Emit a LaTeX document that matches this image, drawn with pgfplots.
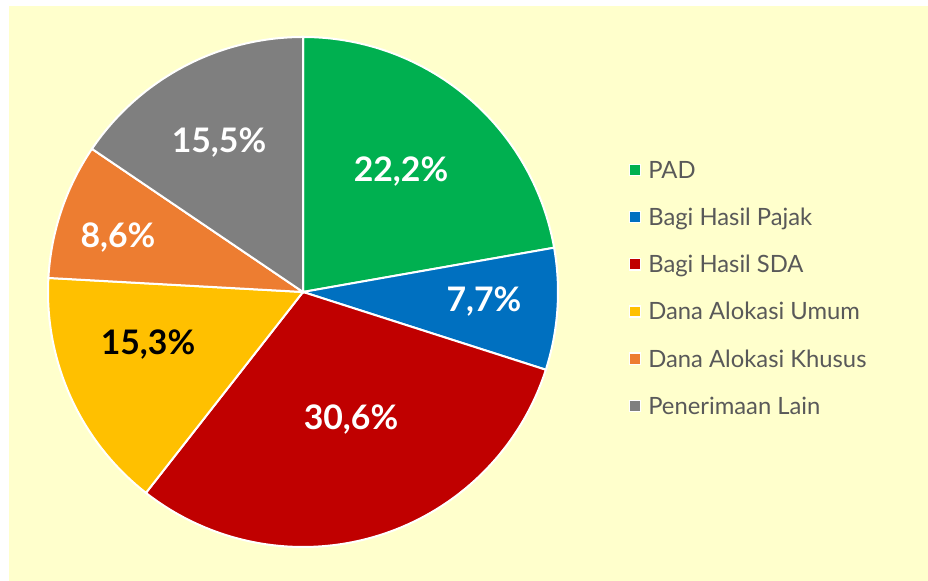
\documentclass[border=0pt]{standalone}
\usepackage{pgfplots}
\pgfplotsset{compat=1.18}
\usepackage{fontspec}
\setmainfont{Lato}
\definecolor{bgy}{HTML}{FFFFCC}
\definecolor{cpad}{HTML}{00B050}
\definecolor{cbhp}{HTML}{0070C0}
\definecolor{csda}{HTML}{C00000}
\definecolor{cdau}{HTML}{FFC000}
\definecolor{cdak}{HTML}{ED7D31}
\definecolor{clain}{HTML}{7F7F7F}
\definecolor{ltxt}{HTML}{595959}
% shares (%)
\def\vA{22.2}\def\vB{7.7}\def\vC{30.6}\def\vD{15.3}\def\vE{8.6}\def\vF{15.5}
\pgfmathsetmacro\tot{\vA+\vB+\vC+\vD+\vE+\vF}
\pgfmathsetmacro\aA{90}
\pgfmathsetmacro\aB{\aA-\vA*360/\tot}
\pgfmathsetmacro\aC{\aB-\vB*360/\tot}
\pgfmathsetmacro\aD{\aC-\vC*360/\tot}
\pgfmathsetmacro\aE{\aD-\vD*360/\tot}
\pgfmathsetmacro\aF{\aE-\vE*360/\tot}
\pgfmathsetmacro\aG{\aF-\vF*360/\tot}
\def\cx{303}\def\cy{289}\def\R{255}
\begin{document}
\begin{tikzpicture}
\begin{axis}[
  scale only axis, width=464pt, height=290.5pt,
  xmin=0, xmax=928, ymin=0, ymax=581,
  hide axis, clip=false,
  axis background/.style={fill=white},
  legend style={draw=none, fill=none, inner sep=0pt, outer sep=0pt,
    at={(axis cs:628.5,434.6)}, anchor=north west,
    column sep=3.6pt, row sep=0pt,
    font=\fontsize{11.9}{13}\selectfont\color{ltxt},
    nodes={inner sep=0pt, text height=16pt, text depth=7.6pt}},
  legend image code/.code={\draw[#1, draw=white, line width=0.7pt] (0pt,-2.8pt) rectangle (5.6pt,2.8pt);},
  legend cell align=left,
]
\addplot[fill=bgy, draw=none, forget plot] coordinates {(9,0) (928,0) (928,575) (9,575)} -- cycle;
\addplot[fill=cpad, draw=white, line width=1pt, domain=\aB:\aA, samples=80] ({\cx+\R*cos(x)},{\cy+\R*sin(x)}) -- (axis cs:\cx,\cy) -- cycle;
\addlegendentry{PAD}
\addplot[fill=cbhp, draw=white, line width=1pt, domain=\aC:\aB, samples=40] ({\cx+\R*cos(x)},{\cy+\R*sin(x)}) -- (axis cs:\cx,\cy) -- cycle;
\addlegendentry{Bagi Hasil Pajak}
\addplot[fill=csda, draw=white, line width=1pt, domain=\aD:\aC, samples=100] ({\cx+\R*cos(x)},{\cy+\R*sin(x)}) -- (axis cs:\cx,\cy) -- cycle;
\addlegendentry{Bagi Hasil SDA}
\addplot[fill=cdau, draw=white, line width=1pt, domain=\aE:\aD, samples=60] ({\cx+\R*cos(x)},{\cy+\R*sin(x)}) -- (axis cs:\cx,\cy) -- cycle;
\addlegendentry{Dana Alokasi Umum}
\addplot[fill=cdak, draw=white, line width=1pt, domain=\aF:\aE, samples=40] ({\cx+\R*cos(x)},{\cy+\R*sin(x)}) -- (axis cs:\cx,\cy) -- cycle;
\addlegendentry{Dana Alokasi Khusus}
\addplot[fill=clain, draw=white, line width=1pt, domain=\aG:\aF, samples=60] ({\cx+\R*cos(x)},{\cy+\R*sin(x)}) -- (axis cs:\cx,\cy) -- cycle;
\addlegendentry{Penerimaan Lain}
\begin{scope}[every node/.style={font=\fontsize{16.9}{20}\selectfont\bfseries, anchor=center, inner sep=0pt}]
\node[white] at (axis cs:401,409) {22,2\%};
\node[white] at (axis cs:484,279) {7,7\%};
\node[white] at (axis cs:351,161) {30,6\%};
\node[black] at (axis cs:148,236) {15,3\%};
\node[white] at (axis cs:118,343) {8,6\%};
\node[white] at (axis cs:219,438) {15,5\%};
\end{scope}
\end{axis}
\end{tikzpicture}
\end{document}
